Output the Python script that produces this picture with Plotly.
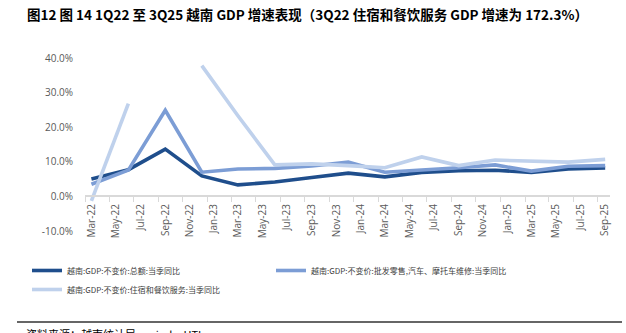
import plotly.graph_objects as go

# Quarterly observations (quarter-end month)
quarters = ["2022-03-01", "2022-06-01", "2022-09-01", "2022-12-01",
            "2023-03-01", "2023-06-01", "2023-09-01", "2023-12-01",
            "2024-03-01", "2024-06-01", "2024-09-01", "2024-12-01",
            "2025-03-01", "2025-06-01", "2025-09-01"]

# Year-on-year growth, constant prices (%)
gdp_total = [5.05, 7.72, 13.67, 5.92, 3.32, 4.14, 5.47, 6.72,
             5.66, 6.93, 7.40, 7.55, 6.93, 7.96, 8.23]
wholesale_retail = [3.5, 7.6, 24.9, 7.0, 7.9, 8.1, 8.8, 9.9,
                    7.0, 7.6, 8.3, 9.1, 7.3, 8.7, 8.9]
accommodation_food = [-1.3, 26.8, 172.3, 37.8, 23.3, 9.1, 9.4, 8.9,
                      8.3, 11.4, 8.9, 10.5, 10.2, 9.9, 10.7]

series_names = ["越南:GDP:不变价:总额:当季同比",
                "越南:GDP:不变价:批发零售,汽车、摩托车维修:当季同比",
                "越南:GDP:不变价:住宿和餐饮服务:当季同比"]
series_colors = ["#1F4E8C", "#7C9DD5", "#BFD1EC"]

y_ticks = [-10, 0, 10, 20, 30, 40]
y_tick_labels = [f"{v:.1f}%" for v in y_ticks]
Y_MIN, Y_MAX = -10, 40

title_text = "图12 图 14 1Q22 至 3Q25 越南 GDP 增速表现（3Q22 住宿和餐饮服务 GDP 增速为 172.3%）"
source_text = "资料来源：越南统计局，wind，HTI"

W, H = 626, 333
ML, MR, MT, MB = 85, 16, 58, 102
PW, PH = W - ML - MR, H - MT - MB


def px_x(x):
    return (x - ML) / PW


def px_y(y):
    return (H - MB - y) / PH


def on_scale(vals):
    # points beyond the value axis are left out together with their segments
    return [v if Y_MIN <= v <= Y_MAX else None for v in vals]


fig = go.Figure()
for name, vals, col in zip(series_names,
                           [gdp_total, wholesale_retail, accommodation_food],
                           series_colors):
    fig.add_trace(go.Scatter(
        x=quarters, y=on_scale(vals), name=name, mode="lines",
        line=dict(color=col, width=3.6), connectgaps=False,
    ))

tick_font = dict(family="Open Sans", size=10, color="#595959")

fig.update_layout(
    width=W, height=H,
    margin=dict(l=ML, r=MR, t=MT, b=MB, autoexpand=False),
    paper_bgcolor="white", plot_bgcolor="white",
    title=dict(text="<b>" + title_text + "</b>", xref="container", yref="container",
               x=27 / W, xanchor="left", y=1 - 15 / H, yanchor="middle",
               font=dict(family="Noto Sans CJK SC", size=13.5, color="#000000")),
    xaxis=dict(
        type="date", range=["2022-02-13", "2025-09-13"],
        tick0="2022-03-01", dtick="M2", tickformat="%b-%y", tickangle=-90,
        tickfont=tick_font, ticks="", ticklabelstandoff=3,
        showgrid=False, zeroline=False,
        showline=True, linecolor="#D9D9D9", linewidth=1.5,
        anchor="free", position=(0 - Y_MIN) / (Y_MAX - Y_MIN),
        minor=dict(ticks="outside", tick0="2022-02-14", dtick="M2",
                   ticklen=5, tickcolor="#D9D9D9", tickwidth=1, showgrid=False),
    ),
    yaxis=dict(
        range=[Y_MIN, Y_MAX], tickvals=y_ticks, ticktext=y_tick_labels,
        tickfont=tick_font, automargin=False, ticklabelstandoff=11,
        showgrid=False, zeroline=False, showline=False, ticks="",
    ),
    legend=dict(
        orientation="h", xref="container", yref="container",
        x=27 / W, xanchor="left", y=1 - 256 / H, yanchor="top",
        entrywidth=199, entrywidthmode="pixels",
        font=dict(family="Noto Sans CJK SC", size=8, color="#404040"),
        bgcolor="rgba(0,0,0,0)", itemclick=False,
    ),
    showlegend=True,
)

fig.add_shape(type="line", xref="paper", yref="paper",
              x0=px_x(17), x1=px_x(622), y0=px_y(322), y1=px_y(322),
              line=dict(color="#333333", width=1.5))
fig.add_annotation(text=source_text, xref="paper", yref="paper",
                   x=px_x(24), y=px_y(324), xanchor="left", yanchor="top",
                   showarrow=False,
                   font=dict(family="Noto Sans CJK SC", size=11, color="#000000"))

fig.write_html("out.html")
